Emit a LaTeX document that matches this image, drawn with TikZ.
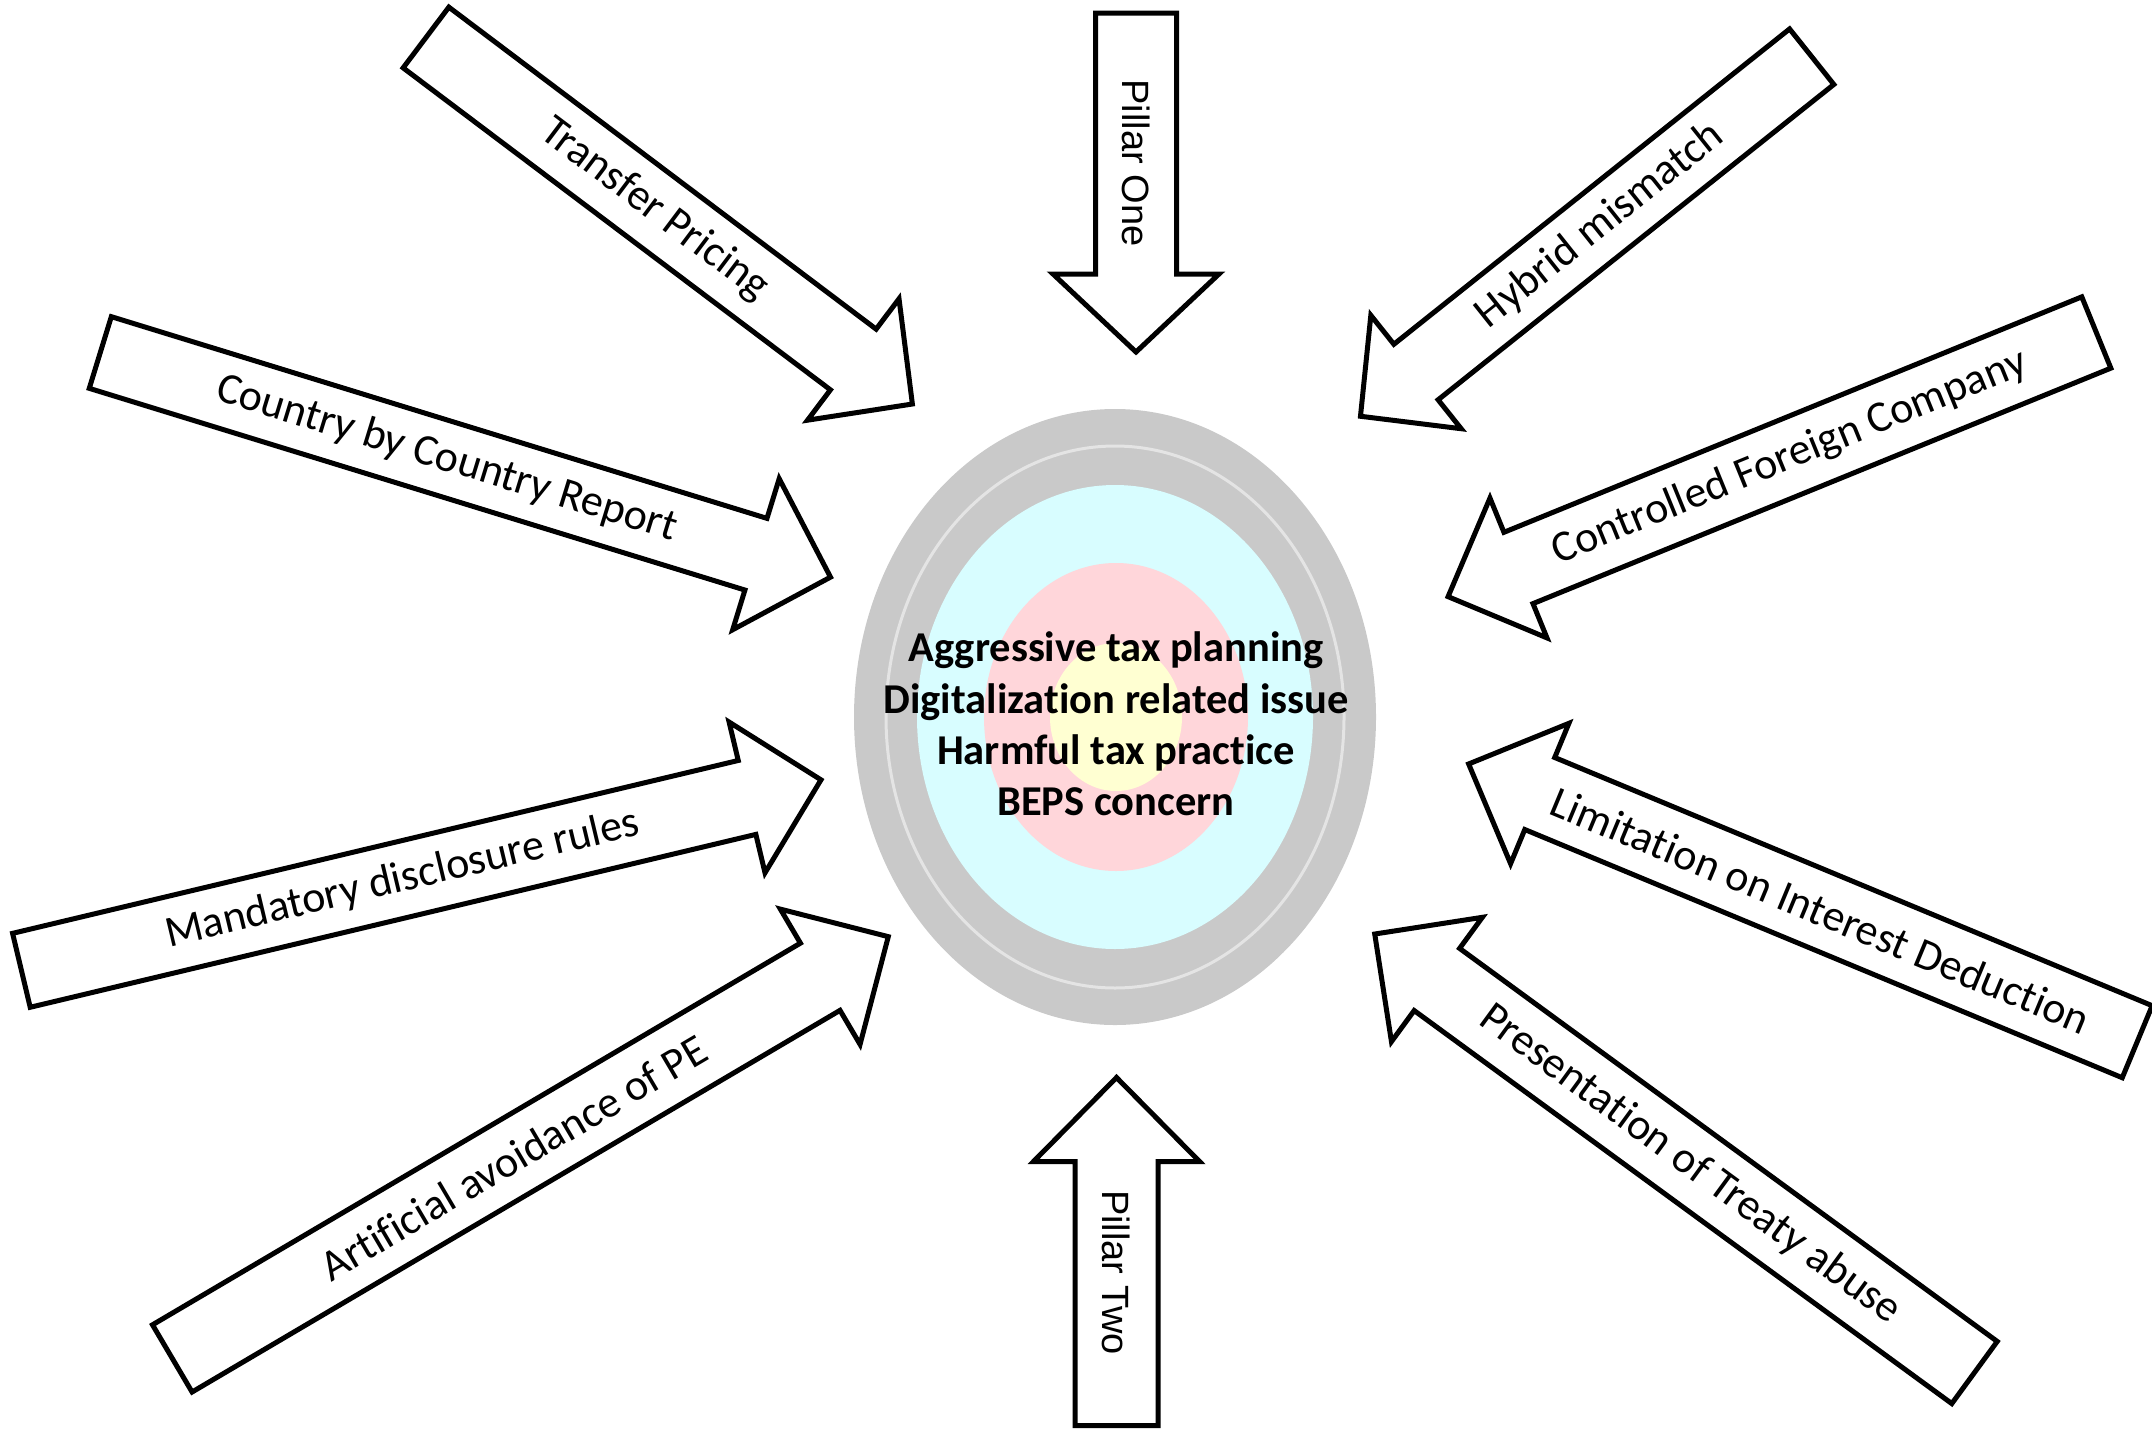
\documentclass[tikz,border=0pt]{standalone}
\usepackage{fontspec}
\setmainfont{Carlito}[Ligatures=NoCommon]
\newfontfamily\pillarfont{Liberation Sans}

\definecolor{ringgray}{HTML}{C9C9C9}
\definecolor{ringlight}{HTML}{E4E4E4}
\definecolor{ringcyan}{HTML}{D8FDFF}
\definecolor{ringpink}{HTML}{FFD6DA}
\definecolor{ringyellow}{HTML}{FFFFD2}

% Block arrow: #1 label coordinate, #2 tail centre, #3 direction (degrees, clockwise, y down),
% #4 total length, #5 shaft width, #6 head width, #7 head length
\newcommand{\blockarrow}[7]{%
  \begin{scope}[shift={(#2)}, rotate={-(#3)}]
    \draw[arrowline] (0,{-(#5)/2}) -- ({#4-#7},{-(#5)/2}) -- ({#4-#7},{-(#6)/2})
      -- (#4,0) -- ({#4-#7},{(#6)/2}) -- ({#4-#7},{(#5)/2}) -- (0,{(#5)/2}) -- cycle;
    \coordinate (#1) at ({(#4)/2-(#7)/4},0);
  \end{scope}}

\begin{document}
\begin{tikzpicture}[x=1pt, y=-1pt,
  arrowline/.style={draw=black, fill=white, line width=5pt, line join=miter},
  tag/.style={font=\fontsize{44}{53}\selectfont, inner sep=0pt},
  pillartag/.style={font=\pillarfont\fontsize{38}{46}\selectfont, inner sep=0pt},
  centertext/.style={font=\bfseries\fontsize{42.5}{51.3}\selectfont, align=center, inner sep=0pt}]

\path[use as bounding box] (0,0) rectangle (2152,1430);

% target rings
\fill[ringgray]   (1115,717) ellipse [x radius=261, y radius=308];
\draw[ringlight, line width=3pt] (1115,717) ellipse [x radius=229, y radius=271];
\fill[ringcyan]   (1115,717) ellipse [x radius=198, y radius=232];
\fill[ringpink]   (1116,717) ellipse [x radius=132, y radius=154];
\fill[ringyellow] (1116,717) ellipse [x radius=66,  y radius=74];

\node[centertext] (core) at (1116,724)
  {Aggressive tax planning\\Digitalization related issue\\Harmful tax practice\\BEPS concern};

% arrows pointing at the target
\blockarrow{tp-c}{426,37.5}{37.0}{609}{76}{152}{74}
\blockarrow{pone-c}{1136,13}{90}{339}{81}{166}{78}
\blockarrow{ptwo-c}{1116.5,1425.5}{-90}{348}{83}{166}{84}
\blockarrow{cbc-c}{100.3,352.5}{17.1}{764}{75}{158}{78}
\blockarrow{hm-c}{1811.7,56.7}{141.45}{577}{71}{145}{71}
\blockarrow{cfc-c}{2096.3,332.5}{157.83}{700}{77}{151}{76}
\blockarrow{lid-c}{2137.2,1041.7}{-157.44}{724}{78}{152}{77}
\blockarrow{pta-c}{1974.5,1372.5}{-143.83}{743}{77}{154}{77}
\blockarrow{mdr-c}{21.4,970.3}{-13.4}{822}{76}{155}{76}
\blockarrow{aape-c}{172.3,1358.4}{-30.5}{831}{78}{157}{79}

% arrow labels
\node[tag, rotate=-37.0]  (tp)   at (tp-c)   {Transfer Pricing};
\node[pillartag, rotate=-90] (pone) at (pone-c) {Pillar One};
\node[pillartag, rotate=-90] (ptwo) at (ptwo-c) {Pillar Two};
\node[tag, rotate=-17.1]  (cbc)  at (cbc-c)  {Country by Country Report};
\node[tag, rotate=38.55]  (hm)   at (hm-c)   {Hybrid mismatch};
\node[tag, rotate=22.17]  (cfc)  at (cfc-c)  {Controlled Foreign Company};
\node[tag, rotate=-22.56] (lid)  at (lid-c)  {Limitation on Interest Deduction};
\node[tag, rotate=-36.17] (pta)  at (pta-c)  {Presentation of Treaty abuse};
\node[tag, rotate=13.4]   (mdr)  at (mdr-c)  {Mandatory disclosure rules};
\node[tag, rotate=30.5]   (aape) at (aape-c) {Artificial avoidance of PE};
\end{tikzpicture}
\end{document}
